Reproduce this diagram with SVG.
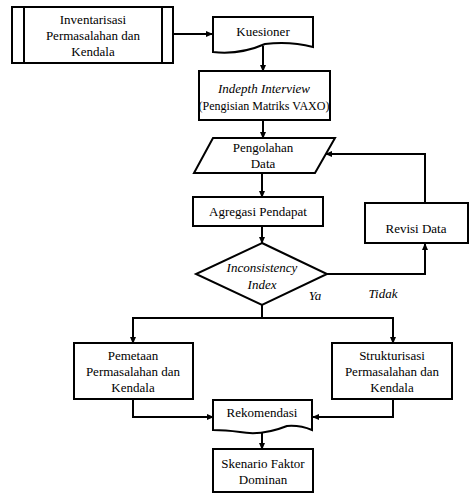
<svg xmlns="http://www.w3.org/2000/svg" width="476" height="494" viewBox="0 0 476 494">
<style>
.box{fill:#fff;stroke:#000;stroke-width:2}
.ln{fill:none;stroke:#000;stroke-width:2}
text{font-family:'Liberation Serif','Times New Roman',serif;font-size:13px;fill:#000;text-anchor:middle}
.it{font-style:italic}
.sm{font-size:12px}
</style>
<defs>
<marker id="ah" markerUnits="userSpaceOnUse" markerWidth="7" markerHeight="6" refX="6" refY="3" orient="auto">
<path d="M0,0 L7,3 L0,6 Z" fill="#000"/>
</marker>
</defs>
<rect width="476" height="494" fill="#fff"/>
<g id="connectors">
<path class="ln" d="M173,34 H212" marker-end="url(#ah)"/>
<path class="ln" d="M263,46 V71" marker-end="url(#ah)"/>
<path class="ln" d="M263,120 V138" marker-end="url(#ah)"/>
<path class="ln" d="M262,173 V197" marker-end="url(#ah)"/>
<path class="ln" d="M262,226 V243" marker-end="url(#ah)"/>
<path class="ln" d="M327,274 H425 V244" marker-end="url(#ah)"/>
<path class="ln" d="M425,203 V154 H326" marker-end="url(#ah)"/>
<path class="ln" d="M262,305 V318"/>
<path class="ln" d="M133,318 H393"/>
<path class="ln" d="M133,317 V343" marker-end="url(#ah)"/>
<path class="ln" d="M393,317 V343" marker-end="url(#ah)"/>
<path class="ln" d="M133,399 V417 H213" marker-end="url(#ah)"/>
<path class="ln" d="M393,399 V417 H313" marker-end="url(#ah)"/>
<path class="ln" d="M262,431 V449" marker-end="url(#ah)"/>
</g>
<g id="inventarisasi">
<rect class="box" x="12" y="7" width="161" height="56"/>
<line class="ln" x1="24" y1="7" x2="24" y2="63"/>
<line class="ln" x1="162" y1="7" x2="162" y2="63"/>
<text x="93" y="24">Inventarisasi</text>
<text x="93" y="40">Permasalahan dan</text>
<text x="93" y="56">Kendala</text>
</g>
<g id="kuesioner">
<path class="box" d="M213,17 H313 V47 Q290,41 265,44 Q240,55 213,52 Z"/>
<text x="263" y="36">Kuesioner</text>
</g>
<g id="indepth">
<rect class="box" x="199" y="71" width="131" height="49"/>
<text class="it" x="264" y="93">Indepth Interview</text>
<text class="sm" x="264" y="110">(Pengisian Matriks VAXO)</text>
</g>
<g id="pengolahan">
<path class="box" d="M213,138 H335 L315,173 H194 Z"/>
<text x="263" y="152">Pengolahan</text>
<text x="263" y="168">Data</text>
</g>
<g id="agregasi">
<rect class="box" x="193" y="197" width="130" height="29"/>
<text x="258" y="216">Agregasi Pendapat</text>
</g>
<g id="revisi">
<rect class="box" x="365" y="203" width="103" height="40"/>
<text x="416" y="233">Revisi Data</text>
</g>
<g id="inconsistency">
<path class="box" d="M262,243 L327,274 L262,305 L196,274 Z"/>
<text class="it" x="262" y="272">Inconsistency</text>
<text class="it" x="262" y="289">Index</text>
</g>
<text class="it" x="315" y="300">Ya</text>
<text class="it" x="383" y="298">Tidak</text>
<g id="pemetaan">
<rect class="box" x="74" y="343" width="119" height="56"/>
<text x="133" y="360">Pemetaan</text>
<text x="133" y="376">Permasalahan dan</text>
<text x="133" y="392">Kendala</text>
</g>
<g id="strukturisasi">
<rect class="box" x="332" y="343" width="120" height="56"/>
<text x="392" y="360">Strukturisasi</text>
<text x="392" y="376">Permasalahan dan</text>
<text x="392" y="392">Kendala</text>
</g>
<g id="rekomendasi">
<path class="box" d="M213,400 H312 V430 Q300,425 287,426 Q262,436 240,432 Q225,430 213,430 Z"/>
<text x="262" y="417">Rekomendasi</text>
</g>
<g id="skenario">
<rect class="box" x="213" y="449" width="100" height="43"/>
<text x="263" y="468">Skenario Faktor</text>
<text x="263" y="484">Dominan</text>
</g>
</svg>
